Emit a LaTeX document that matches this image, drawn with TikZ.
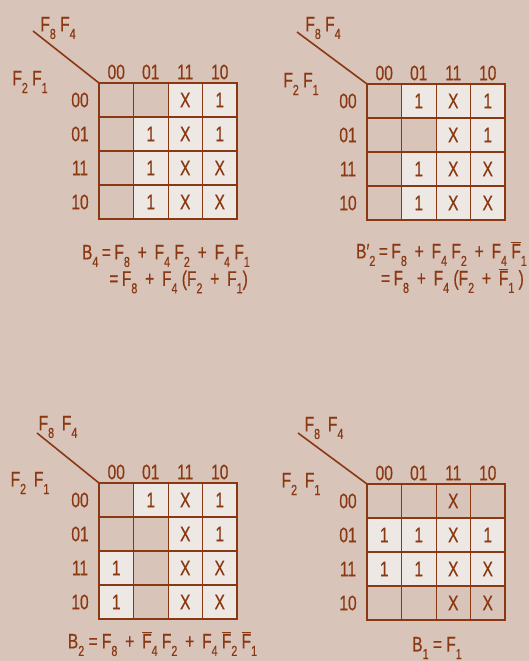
\documentclass[tikz,border=0pt]{standalone}
\usepackage{fontspec}
\setmainfont{Liberation Sans}[FakeStretch=0.74,FakeBold=0.5]
\usetikzlibrary{positioning}
\definecolor{paper}{HTML}{D9C4BA}
\definecolor{cellfill}{HTML}{EEE8E4}
\definecolor{ink}{HTML}{8A3812}
\newcommand{\lsub}[1]{\raisebox{-0.36em}{\fontsize{14.5}{14}\selectfont #1}}
\newcommand{\nbar}[1]{$\overline{\mbox{#1}}$}
\tikzset{
  lbl/.style={font=\fontsize{21}{21}\selectfont, text=ink, inner sep=0pt},
  entry/.style={lbl},
  eqn/.style={lbl},
  hilite/.style={fill=cellfill},
  gridthin/.style={draw=ink, line width=0.8pt},
  gridmid/.style={draw=ink, line width=1.7pt},
  gridouter/.style={draw=ink, line width=2.8pt},
  slash/.style={draw=ink, line width=1.6pt}
}

\begin{document}
\begin{tikzpicture}[x=1pt,y=-1pt]
\fill[paper] (0,0) rectangle (529,661);
\useasboundingbox (0,0) rectangle (529,661);

% Map B4
\begin{scope}[shift={(99,83)}]
\fill[hilite] (69,0) rectangle (138,136);
\fill[hilite] (34.5,34) rectangle (69,136);
\foreach \x in {34.5,69,103.5} \draw[gridthin] (\x,0) -- (\x,136);
\foreach \y in {34,68,102} \draw[gridmid] (0,\y) -- (138,\y);
\draw[gridouter] (0,0) rectangle (138,136);
\coordinate (m1corner) at (0,0);
\coordinate (m1tip) at (-66,-52);
\draw[slash] (m1tip) -- (m1corner);
\node[lbl] (m1top) at (-41,-55) {F\lsub{8} F\lsub{4}};
\node[lbl] (m1side) at (-69,-1) {F\lsub{2} F\lsub{1}};
\foreach \v [count=\i] in {00,01,11,10} {
  \node[lbl] (m1c\i) at ({(\i-0.5)*34.5},-11) {\v};
  \node[lbl] (m1r\i) at (-19,{(\i-0.5)*34}) {\v};
}
\foreach \c/\r/\v in {3/1/X,4/1/1, 2/2/1,3/2/X,4/2/1, 2/3/1,3/3/X,4/3/X, 2/4/1,3/4/X,4/4/X}
  \node[entry] (m1e\c\r) at ({(\c-0.5)*34.5},{(\r-0.5)*34}) {\v};
\node[eqn, anchor=east] (m1eq) at (151,173) {B\lsub{4}\,=\,F\lsub{8} \,+\, F\lsub{4} F\lsub{2} \,+\, F\lsub{4} F\lsub{1}};
\node[eqn, anchor=east] (m1eqb) at (149,199) {=\,F\lsub{8} \,+\, F\lsub{4} (F\lsub{2} \,+\, F\lsub{1})};
\end{scope}

% Map B2'
\begin{scope}[shift={(367,84)}]
\fill[hilite] (69,0) rectangle (138,136);
\fill[hilite] (34.5,0) rectangle (69,34);
\fill[hilite] (34.5,68) rectangle (69,136);
\foreach \x in {34.5,69,103.5} \draw[gridthin] (\x,0) -- (\x,136);
\foreach \y in {34,68,102} \draw[gridmid] (0,\y) -- (138,\y);
\draw[gridouter] (0,0) rectangle (138,136);
\coordinate (m2corner) at (0,0);
\coordinate (m2tip) at (-70,-52);
\draw[slash] (m2tip) -- (m2corner);
\node[lbl] (m2top) at (-44,-56) {F\lsub{8} F\lsub{4}};
\node[lbl] (m2side) at (-66,0) {F\lsub{2} F\lsub{1}};
\foreach \v [count=\i] in {00,01,11,10} {
  \node[lbl] (m2c\i) at ({(\i-0.5)*34.5},-11) {\v};
  \node[lbl] (m2r\i) at (-19,{(\i-0.5)*34}) {\v};
}
\foreach \c/\r/\v in {2/1/1,3/1/X,4/1/1, 3/2/X,4/2/1, 2/3/1,3/3/X,4/3/X, 2/4/1,3/4/X,4/4/X}
  \node[entry] (m2e\c\r) at ({(\c-0.5)*34.5},{(\r-0.5)*34}) {\v};
\node[eqn, anchor=east] (m2eq) at (160,170) {B′\lsub{2}\,=\,F\lsub{8} \,+\, F\lsub{4} F\lsub{2} \,+\, F\lsub{4} \nbar{F}\lsub{1}};
\node[eqn, anchor=east] (m2eqb) at (157,197) {=\,F\lsub{8} \,+\, F\lsub{4} (F\lsub{2} \,+\, \nbar{F}\lsub{1} )};
\end{scope}

% Map B2
\begin{scope}[shift={(99,483)}]
\fill[hilite] (69,0) rectangle (138,136);
\fill[hilite] (34.5,0) rectangle (69,34);
\fill[hilite] (0,68) rectangle (34.5,136);
\foreach \x in {34.5,69,103.5} \draw[gridthin] (\x,0) -- (\x,136);
\foreach \y in {34,68,102} \draw[gridmid] (0,\y) -- (138,\y);
\draw[gridouter] (0,0) rectangle (138,136);
\coordinate (m3corner) at (0,0);
\coordinate (m3tip) at (-62,-50);
\draw[slash] (m3tip) -- (m3corner);
\node[lbl] (m3top) at (-41,-56) {F\lsub{8}\, F\lsub{4}};
\node[lbl] (m3side) at (-69,0) {F\lsub{2}\, F\lsub{1}};
\foreach \v [count=\i] in {00,01,11,10} {
  \node[lbl] (m3c\i) at ({(\i-0.5)*34.5},-11) {\v};
  \node[lbl] (m3r\i) at (-19,{(\i-0.5)*34}) {\v};
}
\foreach \c/\r/\v in {2/1/1,3/1/X,4/1/1, 3/2/X,4/2/1, 1/3/1,3/3/X,4/3/X, 1/4/1,3/4/X,4/4/X}
  \node[entry] (m3e\c\r) at ({(\c-0.5)*34.5},{(\r-0.5)*34}) {\v};
\node[eqn] (m3eq) at (63.5,161) {B\lsub{2} = F\lsub{8} \,+\, \nbar{F}\lsub{4} F\lsub{2} \,+\, F\lsub{4} \nbar{F}\lsub{2} \nbar{F}\lsub{1}};
\end{scope}

% Map B1
\begin{scope}[shift={(367,484)}]
\fill[hilite] (0,34) rectangle (138,102);
\foreach \x in {34.5,69,103.5} \draw[gridthin] (\x,0) -- (\x,136);
\foreach \y in {34,68,102} \draw[gridmid] (0,\y) -- (138,\y);
\draw[gridouter] (0,0) rectangle (138,136);
\coordinate (m4corner) at (0,0);
\coordinate (m4tip) at (-69,-51);
\draw[slash] (m4tip) -- (m4corner);
\node[lbl] (m4top) at (-43,-56) {F\lsub{8}\, F\lsub{4}};
\node[lbl] (m4side) at (-66,0) {F\lsub{2}\, F\lsub{1}};
\foreach \v [count=\i] in {00,01,11,10} {
  \node[lbl] (m4c\i) at ({(\i-0.5)*34.5},-11) {\v};
  \node[lbl] (m4r\i) at (-19,{(\i-0.5)*34}) {\v};
}
\foreach \c/\r/\v in {3/1/X, 1/2/1,2/2/1,3/2/X,4/2/1, 1/3/1,2/3/1,3/3/X,4/3/X, 3/4/X,4/4/X}
  \node[entry] (m4e\c\r) at ({(\c-0.5)*34.5},{(\r-0.5)*34}) {\v};
\node[eqn] (m4eq) at (70,164) {B\lsub{1} = F\lsub{1}};
\end{scope}
\end{tikzpicture}
\end{document}
